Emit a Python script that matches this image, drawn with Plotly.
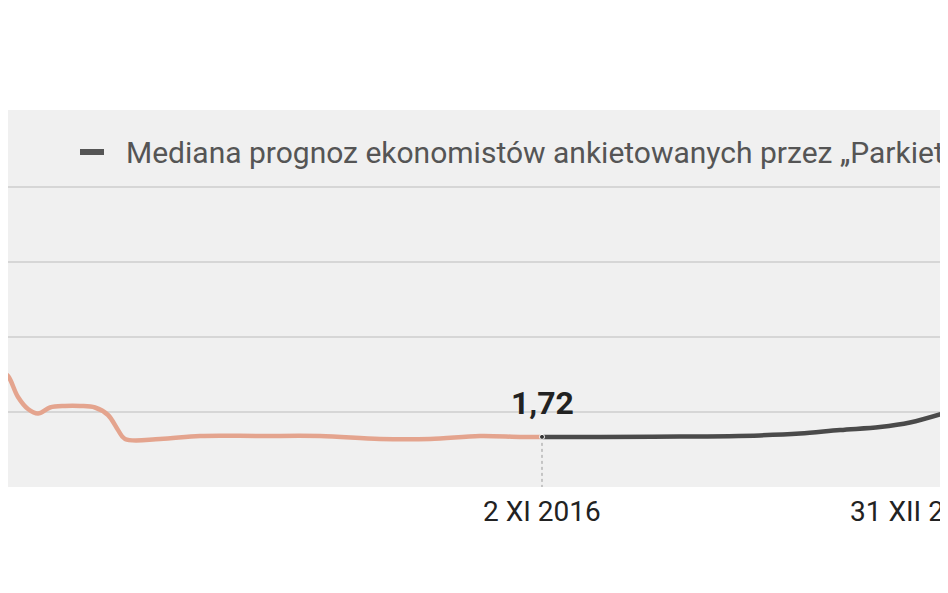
import plotly.graph_objects as go

# x in chart position units (0..948), y in percent
hist_x = [0, 8, 18, 28, 38, 50, 65, 80, 95, 108, 118, 125, 160, 200, 260, 320, 380, 430, 480, 520, 542]
hist_y = [1.89, 1.87, 1.80, 1.76, 1.745, 1.765, 1.77, 1.77, 1.765, 1.74, 1.69, 1.66, 1.66, 1.67, 1.67, 1.67, 1.66, 1.66, 1.67, 1.667, 1.667]
fc_x = [542, 600, 680, 760, 800, 840, 880, 910, 948]
fc_y = [1.667, 1.667, 1.668, 1.672, 1.678, 1.69, 1.70, 1.715, 1.75]
tick_x = [542, 920]
tick_text = ["2 XI 2016", "31 XII 2017"]
grid_y = [1.75, 2.0, 2.25, 2.5]
legend_text = "Mediana prognoz ekonomistów ankietowanych przez „Parkiet”"
FONT = "Liberation Sans Narrow, Roboto, sans-serif"

# page has an 8px body margin; the figure starts at x=8, y=8
X0 = 8

fig = go.Figure()
fig.add_trace(go.Scatter(x=hist_x, y=hist_y, mode="lines",
                         line=dict(color="#e4a48e", width=4.5, shape="spline"),
                         hoverinfo="skip", showlegend=False))
fig.add_trace(go.Scatter(x=fc_x, y=fc_y, mode="lines",
                         line=dict(color="#4a4a4a", width=4.5, shape="spline"),
                         hoverinfo="skip", showlegend=False))
fig.add_trace(go.Scatter(x=[fc_x[0]], y=[fc_y[0]], mode="markers",
                         marker=dict(color="#333", size=5, line=dict(color="white", width=1)),
                         hoverinfo="skip", showlegend=False))

fig.add_shape(type="rect", xref="paper", yref="paper", x0=0, x1=1, y0=0, y1=1,
              fillcolor="#f0f0f0", line_width=0, layer="below")
for tx in tick_x:
    y0 = fc_y[0] if tx == fc_x[0] else 1.5
    fig.add_shape(type="line", x0=tx, x1=tx, y0=y0, y1=1.44, yref="y",
                  line=dict(color="#999", width=1, dash="dot"), layer="below")
fig.add_shape(type="rect", x0=942, x1=960, y0=1.87, y1=1.95, yref="y",
              fillcolor="#444", line=dict(color="#ddd", width=1))

for tx, tt in zip(tick_x, tick_text):
    fig.add_annotation(x=tx, y=1.5, yref="y", text=tt, showarrow=False, yanchor="top",
                       yshift=-6, font=dict(family=FONT, size=28, color="#222"))
fig.add_annotation(x=fc_x[0], y=fc_y[0], text="<b>1,72</b>", showarrow=False,
                   yshift=34, font=dict(family=FONT, size=32, color="#222"))
# legend
ly = (487 - 152) / 377
fig.add_shape(type="line", xref="paper", yref="paper", x0=(80 - X0) / 940, x1=(104 - X0) / 940,
              y0=ly, y1=ly, line=dict(color="#555", width=6))
fig.add_annotation(xref="paper", yref="paper", x=(124 - X0) / 940, y=ly,
                   xanchor="left", yanchor="middle", showarrow=False,
                   text=legend_text, font=dict(family=FONT, size=30, color="#555"))

fig.update_layout(
    width=940, height=585, paper_bgcolor="white", plot_bgcolor="rgba(0,0,0,0)",
    margin=dict(l=0, r=0, t=110 - 8, b=593 - 487),
    xaxis=dict(range=[X0, 948], showticklabels=False, showgrid=False,
               zeroline=False, showline=False, ticks=""),
    yaxis=dict(range=[1.5, 1.5 + 377 / 300], tickvals=grid_y, showticklabels=False,
               gridcolor="#d6d6d6", gridwidth=1.5, zeroline=False),
)
fig.write_html("out.html")
